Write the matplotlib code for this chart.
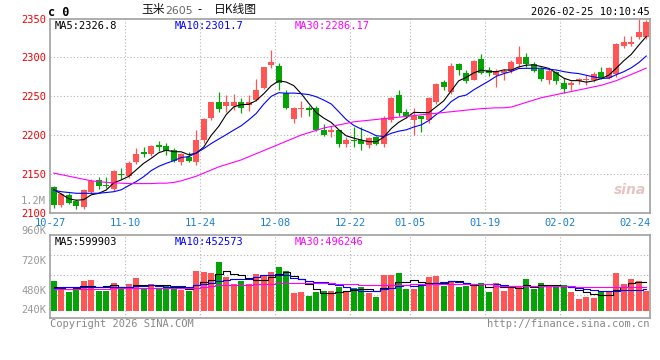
import matplotlib
matplotlib.use("Agg")
import matplotlib.pyplot as plt
import numpy as np

# ---- data (one entry per trading day, 10-27 .. 02-25) ----
opens = [2133, 2110, 2123, 2115, 2107, 2127, 2142, 2136, 2130, 2150,
         2147, 2165, 2178, 2176, 2187, 2186, 2181, 2165, 2172, 2165,
         2193, 2222, 2242, 2238, 2238, 2243, 2239, 2245, 2261, 2290,
         2289, 2254, 2220, 2233, 2235, 2235, 2207, 2204, 2207, 2189,
         2194, 2194, 2187, 2197, 2188, 2219, 2251, 2229, 2219, 2224,
         2219, 2242, 2268, 2255, 2292, 2280, 2271, 2298, 2284, 2277,
         2280, 2283, 2292, 2300, 2292, 2285, 2271, 2281, 2267, 2264,
         2269, 2271, 2271, 2281, 2274, 2278, 2314, 2317, 2326, 2326]
highs = [2134, 2125, 2125, 2117, 2130, 2143, 2146, 2146, 2155, 2158,
         2166, 2183, 2184, 2187, 2192, 2190, 2183, 2177, 2178, 2207,
         2222, 2243, 2256, 2251, 2253, 2248, 2251, 2272, 2288, 2309,
         2293, 2258, 2236, 2244, 2238, 2238, 2214, 2211, 2207, 2197,
         2210, 2210, 2197, 2199, 2224, 2249, 2258, 2234, 2235, 2225,
         2249, 2267, 2271, 2293, 2293, 2284, 2296, 2304, 2288, 2285,
         2285, 2297, 2314, 2305, 2294, 2288, 2285, 2283, 2273, 2270,
         2274, 2277, 2281, 2288, 2288, 2318, 2327, 2328, 2350, 2348]
lows = [2106, 2107, 2111, 2105, 2105, 2125, 2130, 2132, 2128, 2143,
        2145, 2163, 2172, 2173, 2180, 2174, 2165, 2162, 2165, 2161,
        2190, 2219, 2229, 2229, 2232, 2228, 2231, 2244, 2259, 2286,
        2258, 2234, 2216, 2223, 2225, 2205, 2199, 2198, 2184, 2184,
        2184, 2181, 2183, 2187, 2185, 2217, 2224, 2222, 2200, 2204,
        2216, 2240, 2258, 2253, 2277, 2267, 2271, 2279, 2276, 2262,
        2271, 2280, 2288, 2288, 2281, 2270, 2266, 2266, 2254, 2258,
        2266, 2265, 2268, 2272, 2272, 2275, 2312, 2314, 2324, 2323]
closes = [2110, 2124, 2113, 2108, 2129, 2141, 2134, 2134, 2154, 2148,
          2164, 2176, 2176, 2186, 2184, 2180, 2167, 2175, 2167, 2194,
          2220, 2242, 2233, 2243, 2243, 2235, 2243, 2258, 2287, 2294,
          2267, 2235, 2235, 2235, 2232, 2207, 2200, 2207, 2188, 2193,
          2192, 2188, 2196, 2188, 2222, 2248, 2228, 2224, 2224, 2220,
          2248, 2266, 2262, 2289, 2284, 2270, 2295, 2280, 2280, 2282,
          2282, 2294, 2300, 2292, 2283, 2272, 2282, 2270, 2259, 2267,
          2272, 2272, 2279, 2273, 2286, 2317, 2320, 2320, 2332, 2346]

ma5 = [2130, 2124, 2118, 2116, 2116.8, 2123.0, 2125.0, 2129.2, 2138.4, 2142.2,
       2146.8, 2155.2, 2163.6, 2170.0, 2177.2, 2180.4, 2178.6, 2178.4, 2174.6, 2176.6,
       2184.6, 2199.6, 2211.2, 2226.4, 2236.2, 2239.2, 2239.4, 2244.4, 2253.2, 2263.4,
       2269.8, 2268.2, 2263.6, 2253.2, 2240.8, 2228.8, 2221.8, 2216.2, 2206.8, 2199.0,
       2196.0, 2193.6, 2191.4, 2191.4, 2197.2, 2208.4, 2216.4, 2222.0, 2229.2, 2228.8,
       2228.8, 2236.4, 2244.0, 2257.0, 2269.8, 2274.2, 2280.0, 2283.6, 2281.8, 2281.4,
       2283.8, 2283.6, 2287.6, 2290.0, 2290.2, 2288.2, 2285.8, 2279.8, 2273.2, 2270.0,
       2270.0, 2268.0, 2269.8, 2272.6, 2277.0, 2286.0, 2295.6, 2303.8, 2315.6, 2326.8]
ma10 = [2129, 2127, 2126, 2125, 2125, 2125, 2125, 2126, 2127, 2129.5,
        2134.9, 2140.1, 2146.4, 2154.2, 2159.7, 2163.6, 2166.9, 2171.0, 2172.3, 2176.9,
        2182.5, 2189.1, 2194.8, 2200.5, 2206.4, 2211.9, 2219.5, 2227.8, 2239.8, 2249.8,
        2254.5, 2253.8, 2254.0, 2253.2, 2252.1, 2249.3, 2245.0, 2239.9, 2230.0, 2219.9,
        2212.4, 2207.7, 2203.8, 2199.1, 2198.1, 2202.2, 2205.0, 2206.7, 2210.3, 2213.0,
        2218.6, 2226.4, 2233.0, 2243.1, 2249.3, 2251.5, 2258.2, 2263.8, 2269.4, 2275.6,
        2279.0, 2281.8, 2285.6, 2285.9, 2285.8, 2286.0, 2284.7, 2283.7, 2281.6, 2280.1,
        2279.1, 2276.9, 2274.8, 2272.9, 2273.2, 2277.7, 2281.5, 2286.5, 2293.2, 2301.7]
ma30 = [2151, 2149, 2147, 2145, 2143, 2141, 2140, 2139, 2138.5, 2138,
        2137.5, 2137.5, 2137.5, 2137.5, 2138, 2138, 2139, 2141, 2144, 2147,
        2151, 2155, 2159, 2162, 2165, 2168, 2172, 2176, 2180, 2184,
        2188, 2192, 2196, 2200, 2203, 2206, 2209, 2211, 2213, 2215,
        2217, 2218, 2219, 2220, 2221, 2222, 2223, 2224, 2225, 2226,
        2227, 2228, 2229, 2230, 2231, 2232, 2233, 2234, 2234.5, 2235,
        2235, 2236, 2239, 2242, 2245, 2248, 2250, 2252, 2254, 2256,
        2258, 2260, 2262, 2264, 2267, 2270, 2274, 2278, 2282, 2286.17]

# volume, thousands of lots
volumes = [623, 469, 399, 469, 623, 644, 420, 420, 588, 469,
           560, 693, 455, 567, 455, 518, 518, 434, 420, 840,
           812, 798, 1029, 707, 574, 630, 574, 777, 749, 819,
           924, 840, 378, 399, 308, 399, 413, 420, 504, 413,
           483, 504, 378, 294, 763, 763, 798, 462, 462, 539,
           714, 735, 525, 623, 504, 532, 539, 588, 399, 588,
           420, 504, 518, 665, 462, 588, 504, 504, 539, 399,
           245, 294, 273, 420, 420, 798, 560, 672, 623, 420]
vma5 = [504, 483, 469, 483, 516.6, 520.8, 511, 515.2, 539, 508.2,
        491.4, 546, 553, 548.8, 546, 537.6, 502.6, 498.4, 469, 546,
        604.8, 660.8, 779.8, 837.2, 784, 747.6, 702.8, 652.4, 660.8, 709.8,
        768.6, 821.8, 742, 672, 569.8, 464.8, 379.4, 387.8, 408.8, 429.8,
        446.6, 464.8, 456.4, 414.4, 484.4, 540.4, 599.2, 616, 649.6, 604.8,
        595, 582.4, 595, 627.2, 620.2, 583.8, 544.6, 557.2, 512.4, 529.2,
        506.8, 499.8, 485.8, 539, 513.8, 547.4, 547.4, 544.6, 519.4, 506.8,
        438.2, 396.2, 350, 326.2, 334, 444.6, 497.8, 577.6, 610, 599.903]
vma10 = [490, 495, 500, 504, 504, 504, 505, 507, 510, 512.4,
         506.1, 528.5, 534.1, 543.9, 527.1, 514.5, 524.3, 525.7, 508.9, 546,
         571.2, 581.7, 639.1, 653.1, 665, 676.2, 681.8, 716.1, 749, 746.9,
         758.1, 762.3, 697.2, 666.4, 639.8, 616.7, 600.6, 564.9, 540.4, 499.8,
         455.7, 422.1, 422.1, 411.6, 457.1, 493.5, 532, 536.2, 532, 544.6,
         567.7, 590.8, 605.5, 638.4, 612.5, 589.4, 563.5, 576.1, 569.8, 574.7,
         545.3, 522.2, 521.5, 525.7, 521.5, 527.1, 523.6, 515.2, 529.2, 510.3,
         492.8, 471.8, 447.3, 422.8, 418.6, 430, 436, 445, 450, 452.573]
vma30 = [470, 470, 470, 470, 471, 471, 472, 472, 473, 473,
         474, 474, 475, 475, 476, 476, 477, 478, 480, 490,
         505, 520, 540, 550, 553, 555, 556, 558, 562, 570,
         585, 592, 593, 592, 590, 588, 586, 580, 575, 570,
         560, 555, 553, 552, 552, 553, 555, 556, 560, 566,
         570, 573, 574, 575, 575, 575, 574, 572, 560, 535,
         528, 526, 526, 526, 526, 525, 525, 524, 523, 520,
         500, 495, 494, 494, 494, 495, 495, 496, 496, 496.246]

tick_idx = [0, 10, 20, 30, 40, 48, 58, 68, 78]
tick_labels = ["10-27", "11-10", "11-24", "12-08", "12-22",
               "01-05", "01-19", "02-02", "02-24"]
price_ticks = [2100, 2150, 2200, 2250, 2300, 2350]
vol_labels = ["960K", "720K", "480K", "240K"]

# ---- styles ----
W, H = 660, 360
RED, GREEN = "#ff5555", "#05a305"
GRID = dict(color="#b4b4b4", lw=0.8, ls=(0, (1, 2)))
plt.rcParams["font.family"] = "DejaVu Sans Mono"
CJK = ["Noto Sans CJK SC", "DejaVu Sans"]


def px(x, y):
    return x / W, 1 - y / H


def frame(ax):
    for s in ax.spines.values():
        s.set_color("#a0a0a0")
        s.set_linewidth(1.2)
    ax.tick_params(length=0)


x = np.arange(len(closes))
o, hi, lo, c = map(np.array, (opens, highs, lows, closes))
cols = [RED if cc >= oo else GREEN for oo, cc in zip(o, c)]

fig = plt.figure(figsize=(W / 100, H / 100), dpi=100)

# ---- price panel ----
ax = fig.add_axes([50 / W, 1 - 212.7 / H, 600 / W, 194.2 / H])
frame(ax)
ax.set_xlim(-0.5, len(x) - 0.5)
ax.set_ylim(2100, 2350)
for g in price_ticks[1:-1]:
    ax.axhline(g, zorder=0, **GRID)
for t in tick_idx[1:-1]:
    ax.axvline(t - 0.5, zorder=0, **GRID)

ax.vlines(x, lo, hi, colors=cols, lw=0.9, zorder=2)
body = np.maximum(np.abs(c - o), 1.0)
ax.bar(x, body, bottom=np.minimum(o, c), width=0.78, color=cols, zorder=3)
ax.plot(x, ma5, color="black", lw=0.8, zorder=4)
ax.plot(x, ma10, color="#0000ff", lw=0.8, zorder=4)
ax.plot(x, ma30, color="#ff00ff", lw=0.8, zorder=4)

ax.set_yticks(price_ticks)
ax.set_yticklabels([str(p) for p in price_ticks], color="#ee0000", fontsize=7.5)
ax.tick_params(axis="y", pad=3)
ax.set_xticks([t - 0.5 for t in tick_idx])
ax.set_xticklabels(tick_labels, color="#1a7fd4", fontsize=7.5)
ax.tick_params(axis="x", pad=3.5)

ax.text(0.008, 0.985, f"MA5:{ma5[-1]:.1f}", transform=ax.transAxes,
        color="black", fontsize=7.5, va="top")
ax.text(0.207, 0.985, f"MA10:{ma10[-1]:.1f}", transform=ax.transAxes,
        color="#0000ff", fontsize=7.5, va="top")
ax.text(0.408, 0.985, f"MA30:{ma30[-1]:.2f}", transform=ax.transAxes,
        color="#ff00ff", fontsize=7.5, va="top")
ax.text(0.994, 0.095, "sina", transform=ax.transAxes, ha="right",
        color="#e6c4c4", fontsize=10, style="italic", weight="bold",
        family="DejaVu Sans", zorder=1)

# ---- volume panel ----
vk = 21.0  # thousand lots per pixel
av = fig.add_axes([50 / W, 1 - 318 / H, 600 / W, 83 / H])
frame(av)
av.set_xlim(-0.5, len(x) - 0.5)
av.set_ylim(-7 * vk, 76 * vk)
for ypix in (255, 275, 295):
    av.axhline((311 - ypix) * vk, zorder=0, **GRID)
for t in tick_idx[1:-1]:
    av.axvline(t - 0.5, zorder=0, **GRID)
av.bar(x, volumes, width=0.78, color=cols, zorder=2)
av.plot(x, vma5, color="black", lw=0.8, drawstyle="steps-mid", zorder=3)
av.plot(x, vma10, color="#0000ff", lw=0.8, drawstyle="steps-mid", zorder=3)
av.plot(x, vma30, color="#ff00ff", lw=0.8, drawstyle="steps-mid", zorder=3)
av.set_xticks([])
av.set_yticks([])

av.text(0.008, 0.975, f"MA5:{round(vma5[-1] * 1000)}", transform=av.transAxes,
        color="black", fontsize=7.5, va="top")
av.text(0.207, 0.975, f"MA10:{round(vma10[-1] * 1000)}", transform=av.transAxes,
        color="#0000ff", fontsize=7.5, va="top")
av.text(0.408, 0.975, f"MA30:{round(vma30[-1] * 1000)}", transform=av.transAxes,
        color="#ff00ff", fontsize=7.5, va="top")

# sina places the volume axis labels off the grid lines
for lab, ypix in zip(vol_labels, (230.7, 261, 291, 310)):
    fig.text(*px(46, ypix), lab, ha="right", va="center",
             color="#999999", fontsize=7.5)
fig.text(*px(46, 200.7), "1.2M", ha="right", va="center",
         color="#999999", fontsize=7.5)

# ---- header / footer ----
fig.text(*px(48, 12), "c 0", ha="left", va="center", fontsize=8.5,
         weight="bold", color="black")
fig.text(*px(141, 10), "玉米", ha="left", va="center", fontsize=8.5,
         color="#111111", family=CJK)
fig.text(*px(165, 10.5), "2605", ha="left", va="center", fontsize=7.8,
         color="#666666", family="DejaVu Sans")
fig.text(*px(200, 10), "-", ha="center", va="center", fontsize=8.5,
         color="#111111", family=CJK)
fig.text(*px(214, 10), "日K线图", ha="left", va="center", fontsize=8.5,
         color="#111111", family=CJK)
fig.text(*px(650, 12), "2026-02-25 10:10:45", ha="right", va="center",
         fontsize=7.5, color="black")
fig.text(*px(50, 324), "Copyright 2026 SINA.COM", ha="left", va="center",
         fontsize=7.5, color="#888888")
fig.text(*px(650, 324), "http://finance.sina.com.cn", ha="right",
         va="center", fontsize=7.5, color="#888888")

fig.savefig("out.png", dpi=100, facecolor="white")
